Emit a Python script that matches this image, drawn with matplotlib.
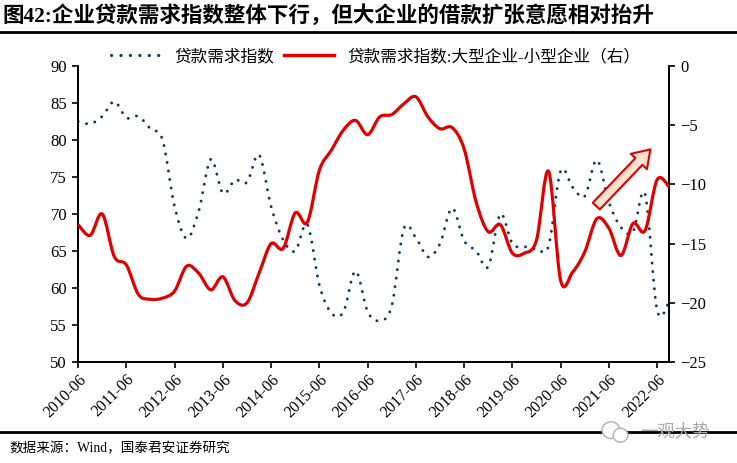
import numpy as np
import matplotlib.pyplot as plt
from matplotlib.path import Path
from matplotlib.patches import PathPatch, FancyArrowPatch, Ellipse
from matplotlib.lines import Line2D

plt.rcParams['font.family'] = ['Liberation Serif', 'Noto Sans CJK SC']

# 季度标签 2010Q2 - 2022Q3
tick_labels = ['2010-06', '2011-06', '2012-06', '2013-06', '2014-06', '2015-06', '2016-06',
               '2017-06', '2018-06', '2019-06', '2020-06', '2021-06', '2022-06']

# 贷款需求指数（左轴）
demand = [82.5, 82.2, 83.2,
          85.2, 83.0, 83.2, 81.5,
          80.0, 71.0, 66.7, 70.4,
          77.4, 72.8, 74.6, 74.3,
          78.0, 71.0, 66.5, 65.0,
          68.6, 60.4, 56.6, 56.8,
          62.3, 56.8, 55.6, 57.6,
          68.0, 66.8, 64.2, 66.0,
          70.8, 66.4, 65.0, 62.9,
          70.0, 66.0, 65.6, 65.3,
          65.7, 75.8, 73.6, 72.4,
          77.3, 71.6, 68.2, 67.6,
          72.7, 57.0, 58.2]

# 贷款需求指数:大型企业-小型企业（右轴）
spread = [-13.4, -14.3, -12.5,
          -16.1, -16.8, -19.3, -19.7,
          -19.6, -19.0, -16.9, -17.5,
          -18.9, -17.8, -19.8, -20.0,
          -17.5, -15.0, -15.4, -12.4,
          -13.2, -8.8, -7.1, -5.4,
          -4.6, -5.8, -4.3, -4.1,
          -3.2, -2.6, -4.3, -5.3,
          -5.2, -7.0, -11.5, -14.0,
          -13.4, -15.8, -15.8, -14.7,
          -8.9, -18.1, -17.4, -15.7,
          -12.9, -13.7, -16.0, -13.3,
          -13.9, -9.6, -10.2]


def smooth_path(y):
    # Excel 式平滑线：相邻点之间的三次贝塞尔曲线
    y = np.asarray(y, float)
    x = np.arange(len(y), dtype=float)
    p = np.column_stack([x, y])
    pp = np.vstack([p[0], p, p[-1]])
    verts = [p[0]]
    codes = [Path.MOVETO]
    for i in range(len(p) - 1):
        c1 = p[i] + (pp[i + 2] - pp[i]) / 6
        c2 = p[i + 1] - (pp[i + 3] - pp[i + 1]) / 6
        verts += [c1, c2, p[i + 1]]
        codes += [Path.CURVE4] * 3
    return Path(verts, codes)


fig = plt.figure(figsize=(7.37, 4.63), dpi=100)
ax = fig.add_axes([0.106, 0.218, 0.802, 0.6395])
ax2 = ax.twinx()

blue = '#0b3b5e'
red = '#e00000'
dots = (0, (0.05, 2.9))

ax.add_patch(PathPatch(smooth_path(demand), fill=False, edgecolor=blue, lw=2.1,
                       linestyle=dots, capstyle='round', zorder=3))
ax2.add_patch(PathPatch(smooth_path(spread), fill=False, edgecolor=red, lw=2.3,
                        capstyle='round', joinstyle='round', zorder=3))

n = len(demand)
ax.set_xlim(0, n - 1)
ax.set_ylim(50, 90)
ax2.set_ylim(-25, 0)
ax.set_yticks(range(50, 91, 5))
ax2.set_yticks(range(-25, 1, 5))
ax.set_xticks(range(0, n, 4))
ax.set_xticklabels(tick_labels, rotation=45, ha='right', va='top', rotation_mode='anchor')

for a in (ax, ax2):
    a.spines['top'].set_visible(False)
    for s in a.spines.values():
        s.set_linewidth(1.3)
    a.tick_params(labelsize=12, width=1.2, length=4, direction='out', pad=4)
ax.tick_params(axis='x', labelsize=11.5, pad=3)

# 箭头
arrow = FancyArrowPatch((42.8, 70.8), (47.6, 79.0),
                        arrowstyle='simple,head_width=1.6,head_length=1.2,tail_width=0.7',
                        mutation_scale=10, facecolor='#fde3cf', edgecolor=red, lw=1.5, zorder=5)
ax.add_patch(arrow)

handles = [Line2D([], [], color=blue, lw=2.3, linestyle=dots, dash_capstyle='round'),
           Line2D([], [], color=red, lw=2.5)]
fig.legend(handles, ['贷款需求指数', '贷款需求指数:大型企业-小型企业（右）'],
           loc='center', bbox_to_anchor=(0.51, 0.877), ncol=2, frameon=False,
           fontsize=12, handlelength=3.0, columnspacing=0.6, handletextpad=0.8)

fig.text(0.003, 0.966, '图42:企业贷款需求指数整体下行，但大企业的借款扩张意愿相对抬升',
         fontsize=15.5, fontweight='bold', va='center', ha='left')
fig.add_artist(Line2D([0, 1], [0.93, 0.93], color='black', lw=2, transform=fig.transFigure))
fig.add_artist(Line2D([0, 1], [0.067, 0.067], color='black', lw=2, transform=fig.transFigure))
fig.text(0.013, 0.03, '数据来源：Wind，国泰君安证券研究', fontsize=9.8, va='center', ha='left')

# 水印
fig.add_artist(Ellipse((0.829, 0.071), 0.024, 0.036, transform=fig.transFigure,
                       facecolor='white', edgecolor='#b0b0b0', lw=1, zorder=4))
fig.add_artist(Ellipse((0.842, 0.060), 0.02, 0.03, transform=fig.transFigure,
                       facecolor='white', edgecolor='#b0b0b0', lw=1, zorder=4))
fig.text(0.916, 0.069, '一观大势', fontsize=12.5, color='#a8a8a8', va='center', ha='center',
         family=['Noto Sans CJK SC'], zorder=5)

fig.savefig('out.png', dpi=100)
